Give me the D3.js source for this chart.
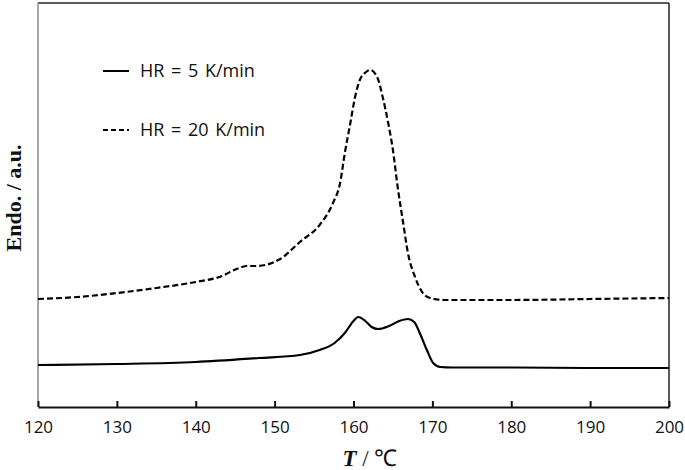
<!DOCTYPE html>
<html>
<head>
<meta charset="utf-8">
<style>
  body { margin: 0; background: #fff; }
  svg { display: block; }
</style>
</head>
<body>
<div id="chart"></div>
<script src="https://d3js.org/d3.v7.min.js"></script>
<script>
// temperature (°C) and signal (arbitrary units)
const tempSlow = [120, 130, 140, 148, 153.2, 155.7, 157.6, 158.9, 160.0, 160.6, 161.5, 162.3, 163.1, 164.5, 165.8, 166.9, 167.7, 168.4, 169.3, 170.1, 171.0, 172.5, 180, 190, 200];
const valSlow  = [42, 43, 45, 49, 52, 57, 64, 74, 86, 90, 86, 80, 78, 81, 86, 88, 85, 74, 57, 44, 40, 39.5, 39.5, 39, 39];

const tempFast = [120, 125, 130, 135, 140, 143, 145.5, 146.5, 147.5, 148.8, 150.7, 153.2, 155.7, 157.4, 158.3, 158.9, 159.6, 160.2, 160.8, 161.6, 162.1, 163.0, 163.7, 164.4, 165.0, 165.6, 166.3, 166.9, 167.8, 168.7, 169.7, 171.6, 180, 190, 200];
const valFast  = [108, 110, 114, 119, 125, 130, 139, 141, 141, 142, 148, 165, 182, 204, 224, 254, 284, 310, 327, 335, 337, 330, 310, 284, 257, 220, 184, 154, 130, 115, 109, 107, 107, 108, 109];

const xTicks = [120, 130, 140, 150, 160, 170, 180, 190, 200];
const seriesNames = ["HR = 5 K/min", "HR = 20 K/min"];

const width = 685, height = 470;
const margin = {top: 3, right: 16, bottom: 63, left: 38};

const svg = d3.select("#chart").append("svg")
  .attr("width", width)
  .attr("height", height);

const x = d3.scaleLinear().domain([120, 200]).range([margin.left, width - margin.right]);
const y = d3.scaleLinear().domain([0, 404]).range([height - margin.bottom, margin.top]);

// frame
svg.append("line")
  .attr("x1", margin.left).attr("x2", width - margin.right)
  .attr("y1", margin.top).attr("y2", margin.top)
  .attr("stroke", "#222").attr("stroke-width", 1.5);
svg.append("line")
  .attr("x1", width - margin.right).attr("x2", width - margin.right)
  .attr("y1", margin.top).attr("y2", height - margin.bottom)
  .attr("stroke", "#222").attr("stroke-width", 1.5);
svg.append("line")
  .attr("x1", margin.left).attr("x2", margin.left)
  .attr("y1", margin.top).attr("y2", height - margin.bottom)
  .attr("stroke", "#888").attr("stroke-width", 1.5);

// x axis, ticks pointing up
const xAxis = d3.axisBottom(x).tickValues(xTicks).tickSizeInner(-6).tickSizeOuter(0).tickPadding(14);
const gx = svg.append("g")
  .attr("transform", `translate(0,${height - margin.bottom})`)
  .call(xAxis);
gx.select(".domain").attr("stroke", "#111").attr("stroke-width", 2);
gx.selectAll(".tick line").attr("stroke", "#111").attr("stroke-width", 2);
gx.selectAll(".tick text")
  .attr("font-family", "'Open Sans', sans-serif")
  .attr("font-size", 17)
  .attr("fill", "#111");

const line = d3.line()
  .x(d => x(d[0]))
  .y(d => y(d[1]))
  .curve(d3.curveMonotoneX);

svg.append("path")
  .datum(d3.zip(tempSlow, valSlow))
  .attr("fill", "none")
  .attr("stroke", "#000")
  .attr("stroke-width", 2.2)
  .attr("d", line);

svg.append("path")
  .datum(d3.zip(tempFast, valFast))
  .attr("fill", "none")
  .attr("stroke", "#000")
  .attr("stroke-width", 2.2)
  .attr("stroke-dasharray", "6,3")
  .attr("d", line);

// legend
const legend = svg.append("g").attr("transform", "translate(103,71)");
seriesNames.forEach((name, i) => {
  const row = legend.append("g").attr("transform", `translate(0,${i * 59})`);
  row.append("line")
    .attr("x1", 0).attr("x2", 26)
    .attr("y1", 0).attr("y2", 0)
    .attr("stroke", "#000").attr("stroke-width", 2)
    .attr("stroke-dasharray", i === 1 ? "5,3" : null);
  row.append("text")
    .attr("x", 37).attr("y", 6)
    .attr("font-family", "'Open Sans', sans-serif")
    .attr("font-size", 18)
    .attr("word-spacing", 2)
    .attr("fill", "#111")
    .text(name);
});

// axis titles
const xt = svg.append("text")
  .attr("x", 370).attr("y", 466)
  .attr("text-anchor", "middle")
  .attr("font-family", "'Liberation Serif', 'Times New Roman', serif")
  .attr("font-size", 23)
  .attr("fill", "#111");
xt.append("tspan").attr("font-weight", "bold").attr("font-style", "italic").text("T");
xt.append("tspan").text(" / ℃");

svg.append("text")
  .attr("transform", "translate(21,198) rotate(-90)")
  .attr("text-anchor", "middle")
  .attr("font-family", "'Liberation Serif', 'Times New Roman', serif")
  .attr("font-size", 22)
  .attr("font-weight", "bold")
  .attr("fill", "#111")
  .text("Endo. / a.u.");
</script>
</body>
</html>
